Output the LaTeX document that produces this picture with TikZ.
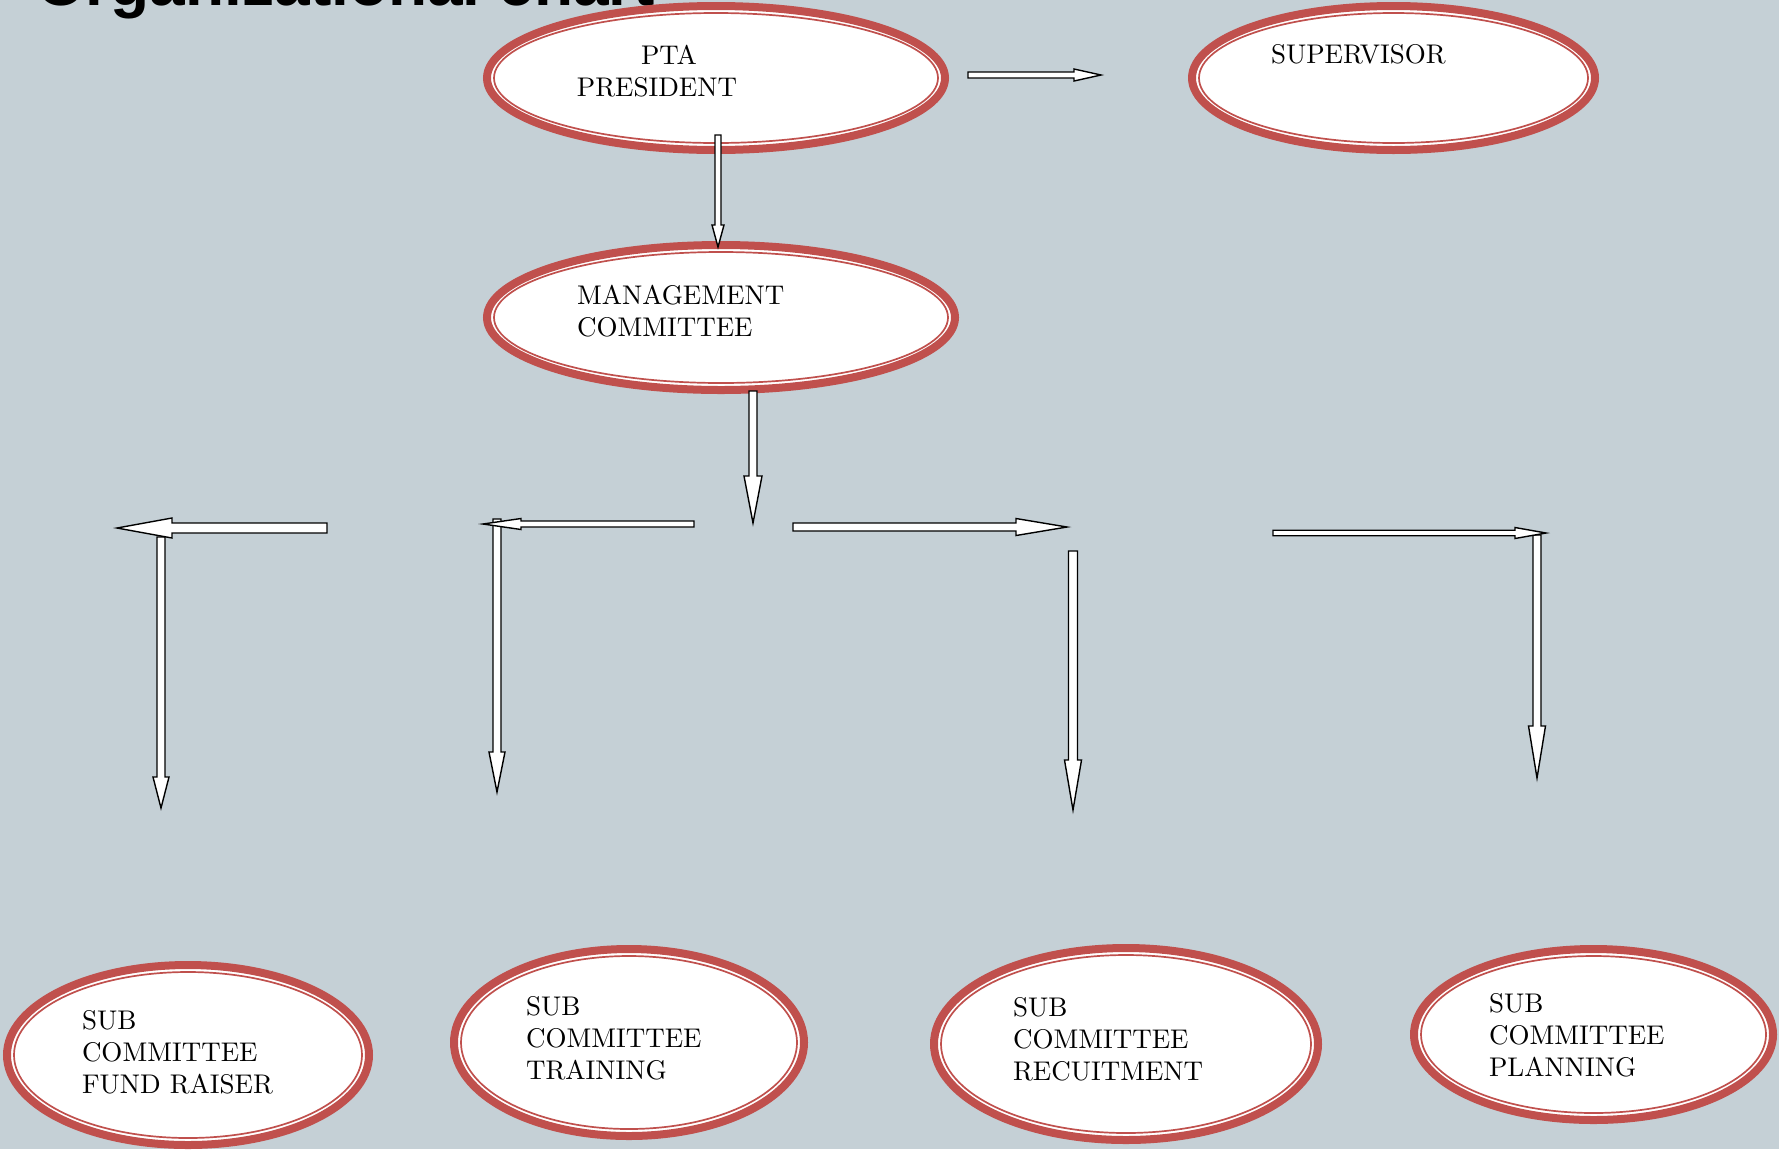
\documentclass[tikz,border=0pt]{standalone}
\usepackage{fontspec}
\newfontfamily\titlefont{Liberation Sans}
\newfontfamily\lmten{lmroman10-regular}[Extension=.otf]
\usetikzlibrary{calc,shapes.geometric}
\definecolor{bg}{RGB}{197,208,214}
\definecolor{ovalred}{RGB}{192,80,77}
\tikzset{
  oval/.style={ellipse, draw=ovalred, line width=8pt, fill=white, inner sep=0pt, outer sep=0pt},
  innerline/.style={draw=ovalred, line width=1.7pt},
  lbl/.style={inner sep=0pt, outer sep=0pt, align=left, font=\lmten\fontsize{27}{32}\selectfont},
  blockarrow/.style={draw=black, fill=white, line width=1.4pt, line join=miter},
}
% name, cx, cy, rx, ry (outer edge)
\newcommand\orgoval[5]{%
  \node[oval, minimum width={2*#4pt-8pt}, minimum height={2*#5pt-8pt}] (#1) at (#2,#3) {};
  \draw[innerline] (#1.center) ellipse [x radius={#4pt-11pt}, y radius={#5pt-11pt}];
}
% from, to, half shaft, half head, head length
\newcommand\blockarr[5]{%
  \path ($(#2)!#5pt!(#1)$) coordinate (hb);
  \draw[blockarrow] ($(#1)!#3pt!90:(#2)$) -- ($(hb)!#3pt!-90:(#1)$) -- ($(hb)!#4pt!-90:(#1)$)
    -- (#2) -- ($(hb)!#4pt!90:(#1)$) -- ($(hb)!#3pt!90:(#1)$) -- ($(#1)!#3pt!-90:(#2)$) -- cycle;
}
\begin{document}
\begin{tikzpicture}[x=1pt,y=-1pt]
\useasboundingbox (0,0) rectangle (1779,1149);
\fill[bg] (0,0) rectangle (1779,1149);

\node[anchor=base west, inner sep=0pt, font=\titlefont\bfseries\fontsize{64}{64}\selectfont] (title) at (36,5) {Organizational chart};

% ovals
\orgoval{pta}{716}{78}{233}{76}
\orgoval{sup}{1393.5}{78}{205.5}{76}
\orgoval{mgmt}{721}{317.5}{238}{76.5}
\orgoval{fund}{188}{1055}{185}{94}
\orgoval{train}{629}{1042.5}{179}{97.5}
\orgoval{recruit}{1126}{1044}{196}{100}
\orgoval{plan}{1593.5}{1034.5}{183.5}{89.5}

% labels
\node[lbl, align=center, anchor=north] (ptat) at (657,45) {\hspace*{24pt}PTA\\PRESIDENT};
\node[lbl, anchor=north west] (supt) at (1271,44) {SUPERVISOR};
\node[lbl, anchor=north west] (mgmtt) at (577,285) {MANAGEMENT\\COMMITTEE};
\node[lbl, anchor=north west] (fundt) at (82,1010) {SUB\\COMMITTEE\\FUND RAISER};
\node[lbl, anchor=north west] (traint) at (526,996) {SUB\\COMMITTEE\\TRAINING};
\node[lbl, anchor=north west] (recruitt) at (1013,997) {SUB\\COMMITTEE\\RECUITMENT};
\node[lbl, anchor=north west] (plant) at (1489,993) {SUB\\COMMITTEE\\PLANNING};

% arrow end points
\coordinate (a1s) at (968,75);   \coordinate (a1e) at (1101,75);
\coordinate (a2s) at (718,135);  \coordinate (a2e) at (718,247);
\coordinate (a3s) at (753,391);  \coordinate (a3e) at (753,523);
\coordinate (a4s) at (327,528);  \coordinate (a4e) at (117,528);
\coordinate (a5s) at (161,537);  \coordinate (a5e) at (161,808);
\coordinate (a6s) at (694,524);  \coordinate (a6e) at (483,524);
\coordinate (a7s) at (497,519);  \coordinate (a7e) at (497,792);
\coordinate (a8s) at (793,527);  \coordinate (a8e) at (1067,527);
\coordinate (a9s) at (1073,551); \coordinate (a9e) at (1073,810);
\coordinate (a10s) at (1273,533); \coordinate (a10e) at (1546,533);
\coordinate (a11s) at (1537,535); \coordinate (a11e) at (1537,778);

% arrows
\blockarr{a1s}{a1e}{3}{6}{27}
\blockarr{a2s}{a2e}{3}{6}{22}
\blockarr{a3s}{a3e}{4}{9}{47}
\blockarr{a5s}{a5e}{4}{8}{31}
\blockarr{a4s}{a4e}{5}{10}{55}
\blockarr{a7s}{a7e}{4}{8}{40}
\blockarr{a6s}{a6e}{3}{5.5}{38}
\blockarr{a8s}{a8e}{4}{8.5}{51}
\blockarr{a9s}{a9e}{4.5}{8.5}{50}
\blockarr{a11s}{a11e}{4}{8.5}{52}
\blockarr{a10s}{a10e}{2.75}{5.5}{31}
\end{tikzpicture}
\end{document}
